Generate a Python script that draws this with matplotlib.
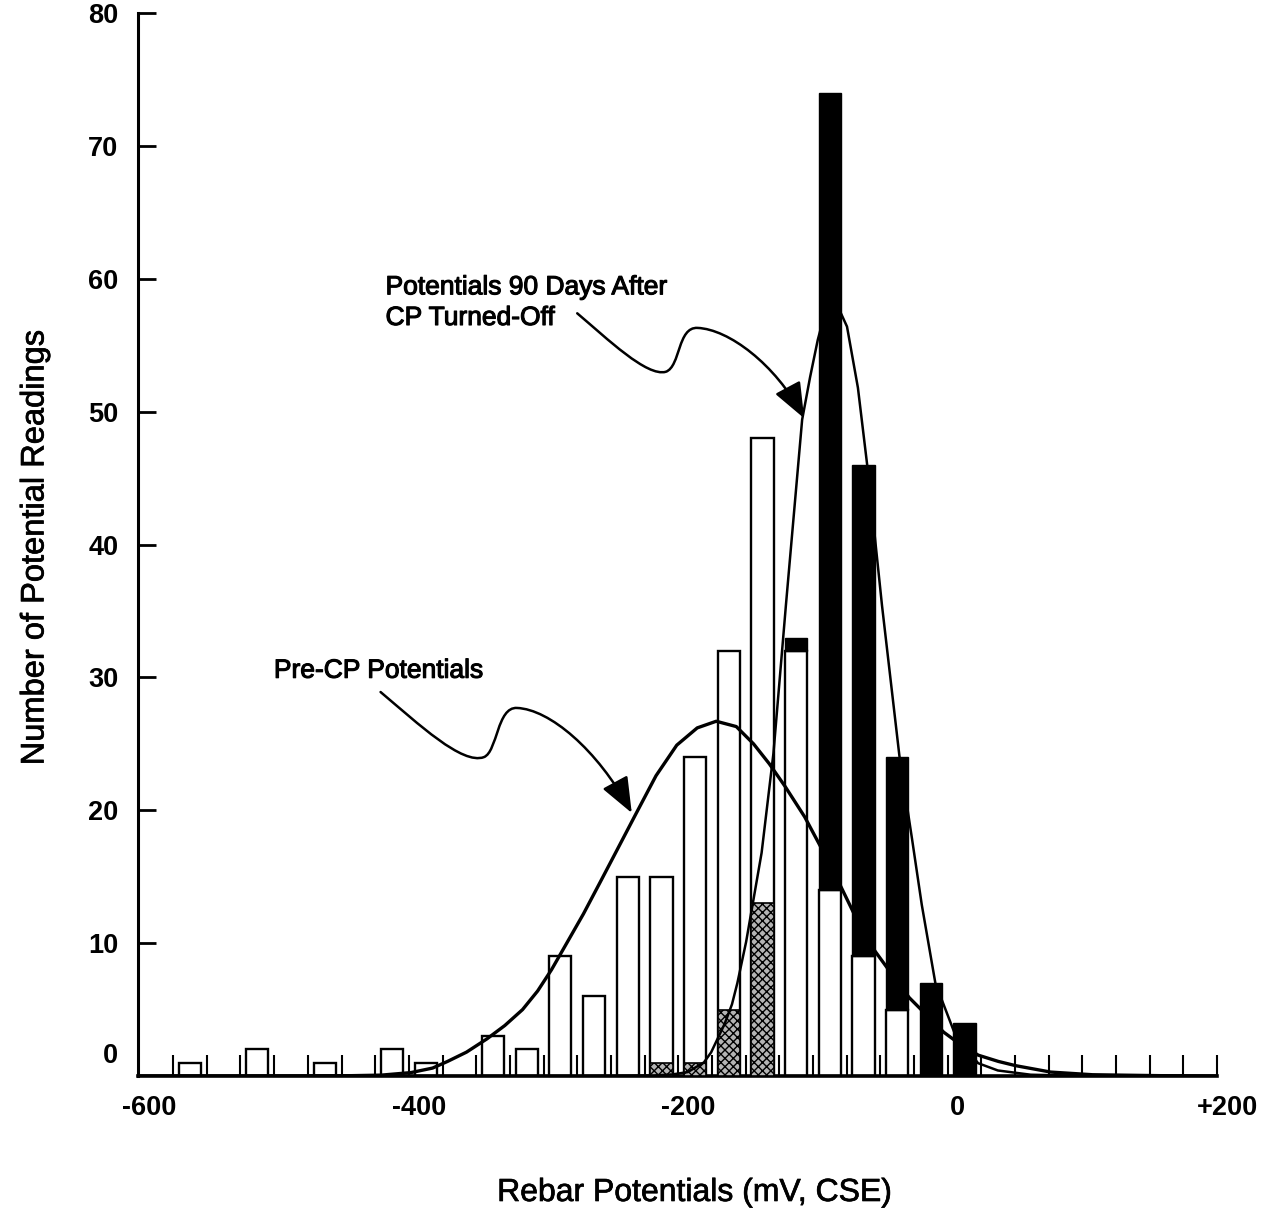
import numpy as np
import matplotlib
matplotlib.use("Agg")
import matplotlib.pyplot as plt
from matplotlib.path import Path
from matplotlib.patches import FancyArrowPatch
from matplotlib.transforms import blended_transform_factory
import matplotlib.patheffects as pe

plt.rcParams['font.family'] = ['Liberation Sans', 'DejaVu Sans']
plt.rcParams['hatch.linewidth'] = 1.0

# ---------------- data ----------------
bin_centers = [-570, -545, -520, -495, -470, -445, -420, -395, -370, -345,
               -320, -295, -270, -245, -220, -195, -170, -145, -120, -95,
               -70, -45, -20, 5, 30, 55, 80, 105, 130, 155, 180]
pre_cp = [1, 0, 2, 0, 1, 0, 2, 1, 0, 3,
          2, 9, 6, 15, 15, 24, 32, 48, 32, 14,
          9, 5, 0, 0, 0, 0, 0, 0, 0, 0, 0]
post_cp = [0, 0, 0, 0, 0, 0, 0, 0, 0, 0,
           0, 0, 0, 0, 1, 1, 5, 13, 33, 74,
           46, 24, 7, 4, 0, 0, 0, 0, 0, 0, 0]

# fitted distribution curves
pre_curve_x = [-608, -540, -480, -450, -428, -406, -389.9, -378.8, -364.7, -349.5,
               -336.3, -323.1, -311.9, -301.6, -290.3, -277.9, -265.4, -253.0, -239.6, -224.0,
               -208.6, -193.4, -179.3, -164.4, -151.6, -139.9, -128.2, -113.6, -102.0, -88.4,
               -76.9, -61.4, -50.6, -36.0, -25.2, -10.4, -1.0, 15.3, 30.2, 43.1,
               69, 100, 150, 192]
pre_curve_y = [0, 0, 0.01, 0.03, 0.07, 0.26, 0.6, 1.1, 1.8, 2.8,
               3.8, 5.0, 6.4, 8.0, 10.0, 12.2, 14.6, 17.0, 19.6, 22.6,
               24.9, 26.2, 26.7, 26.3, 25.0, 23.5, 21.8, 19.5, 17.3, 14.6,
               12.2, 9.4, 7.9, 5.9, 4.8, 3.3, 2.6, 1.57, 1.1, 0.78,
               0.3, 0.1, 0.03, 0]

post_curve_x = [-608, -272, -245, -225, -212, -200.4, -188.4, -183.1, -173.0, -167.6,
                -163.6, -157.1, -145.6, -136.8, -127.5, -115.5, -109.6, -103.9, -99.2, -93.8,
                -89.4, -82.2, -74.1, -66.4, -56.2, -43.3, -34.0, -26.7, -16.6, -2.4,
                15.1, 29.8, 54.2, 90, 150, 192]
post_curve_y = [0, 0, 0.02, 0.05, 0.12, 0.3, 1.03, 1.78, 3.94, 5.4,
                7.0, 10.1, 16.8, 24.3, 35.5, 49.4, 52.6, 55.4, 57.2, 58.2,
                58.0, 56.4, 51.8, 45.3, 35.4, 24.1, 17.9, 12.9, 7.0, 3.25,
                0.97, 0.42, 0.1, 0.02, 0, 0]

x_tick_values = [-600, -400, -200, 0, 200]
x_tick_labels = ['-600', '-400', '-200', '0', '+200']
y_tick_values = [10, 20, 30, 40, 50, 60, 70, 80]

# ---------------- figure ----------------
fig = plt.figure(figsize=(12.68, 12.13), dpi=100)
ax = fig.add_axes([0.10883, 0.1129, 0.85891, 0.8764])

centers = np.array(bin_centers, dtype=float)
pre = np.array(pre_cp, dtype=float)
post = np.array(post_cp, dtype=float)
bw = 16.5

# pre-CP (white) bars
m = pre > 0
ax.bar(centers[m], pre[m], width=bw, facecolor='white', edgecolor='black',
       linewidth=1.7, zorder=2)
# post-CP smaller than pre-CP -> stippled in front of the white bar
ms = (post > 0) & (post <= pre)
ax.bar(centers[ms], post[ms], width=bw, facecolor='#b4b4b4', edgecolor='black',
       hatch='xxxx', linewidth=1.2, zorder=3)
# post-CP larger than pre-CP -> black bar behind the white one
mb = post > pre
ax.bar(centers[mb], post[mb] - pre[mb], bottom=pre[mb], width=bw,
       facecolor='black', edgecolor='black', linewidth=1.0, zorder=5)

# bin-edge marks
edges = np.concatenate([centers - 12.5, [centers[-1] + 12.5]])
ax.vlines(edges, 0, 1.6, color='black', linewidth=1.5, zorder=2)

# curves
ax.plot(pre_curve_x, pre_curve_y, color='black', linewidth=2.4, zorder=4,
        solid_joinstyle='round', solid_capstyle='round')
ax.plot(post_curve_x, post_curve_y, color='black', linewidth=1.8, zorder=4,
        solid_joinstyle='round', solid_capstyle='round')

# annotations
thick = [pe.withStroke(linewidth=0.8, foreground='black')]
ax.text(-507.7, 30.5, 'Pre-CP Potentials', fontsize=19, ha='left', va='center',
        path_effects=thick)
ax.text(-424.8, 58.2, 'Potentials 90 Days After\nCP Turned-Off', fontsize=19,
        ha='left', va='center', linespacing=1.35, path_effects=thick)

C4 = Path.CURVE4
pre_arrow = Path([(-428.5, 28.9), (-400.4, 26.5), (-367.9, 23.4), (-351.8, 24.0),
                  (-341.7, 24.4), (-342.1, 27.8), (-327.2, 27.7),
                  (-303.2, 27.6), (-267.7, 24.6), (-242.0, 19.8)],
                 [Path.MOVETO, C4, C4, C4, C4, C4, C4, C4, C4, C4])
post_arrow = Path([(-282.5, 57.4), (-260.3, 55.5), (-230.8, 52.6), (-216.7, 53.0),
                   (-205.7, 53.4), (-208.1, 56.4), (-193.1, 56.3),
                   (-170.2, 56.2), (-135.6, 53.6), (-114.0, 49.5)],
                  [Path.MOVETO, C4, C4, C4, C4, C4, C4, C4, C4, C4])
for p in (pre_arrow, post_arrow):
    arr = FancyArrowPatch(path=p, arrowstyle='-|>,head_length=0.55,head_width=0.22',
                          mutation_scale=40, linewidth=1.8, color='black',
                          transform=ax.transData, zorder=6)
    ax.add_patch(arr)

# axes styling
ax.set_xlim(-608.6, 200)
ax.set_ylim(0, 80)
ax.spines['top'].set_visible(False)
ax.spines['right'].set_visible(False)
ax.spines['left'].set_linewidth(2.2)
ax.spines['bottom'].set_linewidth(2.6)
ax.spines['bottom'].set_bounds(-608.6, edges[-1])

ax.set_xticks(x_tick_values)
ax.set_xticklabels(x_tick_labels, fontsize=19.5, fontweight='bold')
ax.tick_params(axis='x', length=0, pad=14)
ax.set_yticks(y_tick_values)
ax.set_yticklabels([str(v) for v in y_tick_values], fontsize=19.5, fontweight='bold')
ax.tick_params(axis='y', direction='in', length=13, width=2.0, pad=14)

# zero label of the y axis (raised slightly as in the original)
ax.text(-0.0182, 1.5, '0', transform=blended_transform_factory(ax.transAxes, ax.transData),
        ha='right', va='center', fontsize=19.5, fontweight='bold')

lab_fx = [pe.withStroke(linewidth=0.5, foreground='black')]
ax.set_xlabel('Rebar Potentials (mV, CSE)', fontsize=23, va='center', path_effects=lab_fx)
ax.xaxis.set_label_coords(0.5115, -0.110)
ax.set_ylabel('Number of Potential Readings', fontsize=23.5, va='center', path_effects=lab_fx)
ax.yaxis.set_label_coords(-0.0946, 0.497)

fig.savefig('out.png', dpi=100, facecolor='white')
